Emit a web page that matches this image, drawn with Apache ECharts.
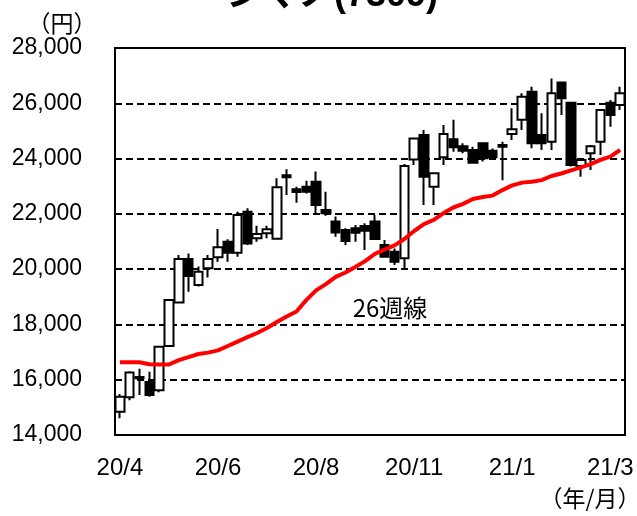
<!DOCTYPE html>
<html>
<head>
<meta charset="utf-8">
<script src="https://cdn.jsdelivr.net/npm/echarts@6/dist/echarts.min.js"></script>
<style>
  html, body { margin: 0; background: #fff; }
  #chart { width: 637px; height: 516px; }
</style>
</head>
<body>
<div id="chart"></div>
<script>
// 週足 (月曜日付)
const weeks = [
  '20/4/6', '20/4/13', '20/4/20', '20/4/27', '20/5/4', '20/5/11', '20/5/18', '20/5/25', '20/6/1', '20/6/8',
  '20/6/15', '20/6/22', '20/6/29', '20/7/6', '20/7/13', '20/7/20', '20/7/27', '20/8/3', '20/8/10', '20/8/17',
  '20/8/24', '20/8/31', '20/9/7', '20/9/14', '20/9/21', '20/9/28', '20/10/5', '20/10/12', '20/10/19', '20/10/26',
  '20/11/2', '20/11/9', '20/11/16', '20/11/23', '20/11/30', '20/12/7', '20/12/14', '20/12/21', '20/12/28', '21/1/4',
  '21/1/11', '21/1/18', '21/1/25', '21/2/1', '21/2/8', '21/2/15', '21/2/22', '21/3/1', '21/3/8', '21/3/15',
  '21/3/22', '21/3/29'
];
const opens = [
  14840, 15370, 16100, 15920, 15620, 17220, 18790, 20370, 19430, 20030,
  20430, 20990, 20590, 22080, 21120, 21300, 21100, 23400, 22890, 22980,
  23160, 22140, 21720, 21420, 21480, 21560, 21720, 20870, 20630, 20390,
  23970, 24850, 22980, 24050, 24700, 24450, 24310, 24550, 24280, 24490,
  24890, 25400, 26420, 24850, 24610, 26750, 26020, 23730, 24190, 24610,
  26020, 25940
];
const closes = [
  15380, 16260, 16050, 15450, 17190, 18880, 20370, 19750, 19910, 20370,
  20790, 20590, 21960, 20930, 21270, 21440, 22960, 23320, 22790, 22800,
  22320, 22020, 21330, 21020, 21320, 21390, 21090, 20450, 20270, 23730,
  24730, 23340, 23470, 24890, 24410, 24280, 23850, 24010, 24050, 24430,
  25060, 26240, 24550, 24550, 26360, 26180, 23770, 23950, 24450, 25760,
  25580, 26360
];
const lows = [
  14610, 15260, 15450, 15380, 15550, 17220, 18790, 19180, 19370, 19700,
  20270, 20270, 20450, 20870, 20990, 21120, 21100, 22680, 22400, 22740,
  22020, 21930, 21170, 20870, 20990, 20690, 21090, 20450, 20150, 19970,
  23770, 22320, 22320, 23770, 24250, 24190, 23830, 23890, 24010, 23220,
  24670, 25030, 24370, 24310, 24310, 25580, 23710, 23340, 23590, 24130,
  25150, 25760
];
const highs = [
  15480, 16310, 16400, 16290, 17220, 18910, 20510, 20570, 20100, 20510,
  21450, 21080, 22080, 22200, 21570, 21570, 23290, 23610, 22980, 23200,
  23530, 22800, 21900, 21480, 21600, 21660, 21960, 21050, 20750, 23800,
  24730, 25030, 23470, 25210, 25400, 24550, 24430, 24570, 24360, 24610,
  25820, 26360, 26600, 25640, 26900, 26750, 26020, 24010, 24490, 25760,
  26120, 26600
];
// 26週移動平均
const ma26 = [
  16630, 16630, 16630, 16560, 16550, 16550, 16710, 16820, 16930, 16980,
  17060, 17220, 17380, 17540, 17690, 17870, 18090, 18290, 18470, 18880,
  19230, 19460, 19720, 19880, 20080, 20290, 20550, 20710, 20860, 21090,
  21380, 21630, 21780, 22030, 22230, 22360, 22540, 22610, 22660, 22860,
  23030, 23130, 23160, 23220, 23370, 23460, 23570, 23680, 23800, 23950,
  24070, 24310
];
const yMin = 14000;
const yMax = 28000;
const yStep = 2000;

const candles = weeks.map((w, i) => [opens[i], closes[i], lows[i], highs[i]]);
const jpFont = '"Noto Sans CJK JP", sans-serif';

const chart = echarts.init(document.getElementById('chart'));
chart.setOption({
  animation: false,
  textStyle: { fontFamily: '"Liberation Sans", Arial, sans-serif' },
  grid: {
    left: 115, right: 12, top: 48, bottom: 81,
    show: true, borderColor: '#000', borderWidth: 2
  },
  xAxis: {
    type: 'category',
    data: weeks,
    boundaryGap: true,
    axisLine: { lineStyle: { color: '#000', width: 2 } },
    axisTick: { inside: true, length: 6, interval: 9, lineStyle: { color: '#000', width: 2 } },
    axisLabel: {
      interval: 9, color: '#000', fontSize: 24, margin: 21,
      formatter: v => v.split('/').slice(0, 2).join('/')
    },
    splitLine: { show: false }
  },
  yAxis: {
    type: 'value',
    min: yMin, max: yMax, interval: yStep,
    axisLine: { show: true, lineStyle: { color: '#000', width: 2 } },
    axisTick: { show: false },
    axisLabel: {
      color: '#000', fontSize: 23, margin: 33,
      formatter: v => v.toLocaleString('en-US')
    },
    splitLine: { lineStyle: { color: '#000', width: 2, type: [7, 4] } }
  },
  series: [
    {
      type: 'candlestick',
      data: candles,
      barWidth: 9,
      itemStyle: {
        color: '#fff', color0: '#000',
        borderColor: '#000', borderColor0: '#000', borderWidth: 2
      }
    },
    {
      type: 'line',
      data: ma26,
      symbol: 'none',
      z: 5,
      lineStyle: { color: '#ff0000', width: 4 }
    }
  ],
  graphic: [
    {
      type: 'text', x: 332, y: -4,
      style: { text: 'シマノ(7309)', font: 'bold 36px "Liberation Sans", ' + jpFont, fill: '#000', align: 'center', verticalAlign: 'middle' }
    },
    {
      type: 'text', x: 62, y: 23,
      style: { text: '（円）', font: '23px ' + jpFont, fill: '#000', align: 'center', verticalAlign: 'middle' }
    },
    {
      type: 'text', x: 590, y: 498,
      style: { text: '（年/月）', font: '23px ' + jpFont, fill: '#000', align: 'center', verticalAlign: 'middle' }
    },
    {
      type: 'text', x: 390, y: 308,
      style: { text: '26週線', font: '24px ' + jpFont, fill: '#000', align: 'center', verticalAlign: 'middle' }
    }
  ]
});
</script>
</body>
</html>
